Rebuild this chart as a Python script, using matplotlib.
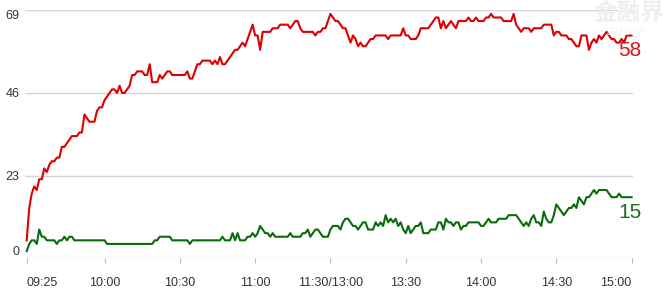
import numpy as np
import matplotlib
matplotlib.use('Agg')
from matplotlib import pyplot as plt

# minute-by-minute counts, 09:25 .. 15:00 (lunch break collapsed)
red = [
    5, 14, 18, 20, 19, 22, 22, 25, 24, 26,
    27, 27, 28, 28, 31, 31, 32, 33, 34, 34,
    34, 35, 35, 40, 39, 38, 38, 38, 41, 42,
    42, 44, 45, 46, 47, 47, 46, 48, 46, 46,
    47, 48, 51, 51, 52, 52, 52, 51, 51, 54,
    49, 49, 49, 51, 50, 51, 52, 52, 51, 51,
    51, 51, 51, 51, 52, 50, 50, 52, 54, 54,
    55, 55, 55, 55, 54, 55, 54, 56, 54, 54,
    55, 56, 57, 58, 58, 59, 60, 59, 61, 63,
    65, 62, 62, 58, 63, 63, 63, 63, 64, 64,
    64, 65, 65, 65, 65, 64, 65, 66, 66, 64,
    63, 63, 63, 63, 63, 62, 63, 63, 64, 64,
    66, 68, 67, 66, 66, 65, 64, 64, 62, 60,
    62, 61, 59, 60, 59, 59, 60, 61, 61, 62,
    62, 62, 62, 62, 61, 62, 62, 62, 62, 62,
    64, 62, 62, 61, 61, 61, 62, 64, 64, 64,
    64, 65, 66, 67, 67, 64, 66, 64, 65, 66,
    65, 64, 66, 66, 66, 66, 67, 66, 66, 67,
    66, 66, 66, 67, 67, 68, 67, 67, 67, 67,
    66, 66, 66, 66, 68, 65, 64, 63, 64, 64,
    64, 63, 64, 64, 64, 64, 65, 65, 65, 65,
    62, 63, 63, 62, 62, 62, 61, 61, 60, 59,
    59, 62, 62, 62, 58, 60, 61, 60, 62, 61,
    62, 63, 62, 61, 61, 60, 60, 61, 60, 62,
    62, 62,
]
green = [
    2, 4, 5, 5, 4, 8, 6, 6, 5, 5,
    5, 5, 4, 5, 5, 6, 5, 6, 6, 5,
    5, 5, 5, 5, 5, 5, 5, 5, 5, 5,
    5, 5, 4, 4, 4, 4, 4, 4, 4, 4,
    4, 4, 4, 4, 4, 4, 4, 4, 4, 4,
    4, 5, 5, 6, 6, 6, 6, 6, 5, 5,
    5, 5, 5, 5, 5, 4, 5, 5, 5, 5,
    5, 5, 5, 5, 5, 5, 5, 5, 6, 5,
    5, 5, 7, 5, 7, 5, 5, 5, 6, 6,
    7, 6, 7, 9, 8, 7, 7, 6, 7, 6,
    6, 6, 6, 6, 6, 7, 6, 6, 6, 6,
    7, 7, 8, 6, 7, 8, 8, 7, 6, 6,
    6, 8, 9, 9, 9, 8, 10, 11, 11, 10,
    9, 9, 8, 9, 10, 10, 8, 8, 8, 10,
    9, 10, 9, 12, 10, 11, 10, 11, 9, 10,
    8, 7, 9, 7, 8, 9, 9, 10, 7, 7,
    7, 8, 8, 8, 10, 10, 8, 11, 10, 10,
    9, 10, 10, 8, 9, 9, 10, 10, 10, 10,
    10, 9, 9, 10, 11, 10, 10, 10, 11, 11,
    11, 11, 12, 12, 12, 12, 11, 10, 9, 10,
    9, 11, 12, 10, 10, 9, 13, 11, 10, 10,
    12, 15, 14, 13, 12, 13, 14, 14, 15, 14,
    17, 16, 15, 17, 17, 18, 19, 18, 19, 19,
    19, 19, 18, 17, 17, 17, 18, 17, 17, 17,
    17, 17,
]
red_label = '58'
green_label = '15'
time_ticks = [0, 31, 61, 91, 121, 151, 181, 211, 241]
time_labels = ['09:25', '10:00', '10:30', '11:00', '11:30/13:00',
               '13:30', '14:00', '14:30', '15:00']
y_ticks = [0, 23, 46, 69]

plt.rcParams['font.family'] = ['Liberation Sans', 'DejaVu Sans']

fig = plt.figure(figsize=(6.69, 2.91), dpi=100)
W, H = 669, 291
ax = fig.add_axes([25 / W, (H - 258.3) / H, (633 - 25) / W, (258.3 - 10.3) / H])

# faint watermark
fig.text(593 / W, 1 - 1 / H, '金融界', family=['Noto Sans CJK SC'], fontsize=17,
         fontweight='bold', color='#efefef', ha='left', va='top')
fig.text(607 / W, 1 - 27 / H, 'JRJ.com', fontsize=7, color='#f2f2f2', ha='left', va='top')

x = np.arange(len(red))
ax.plot(x, red, color='#dd0000', lw=1.5, clip_on=False, zorder=3)
ax.plot(x, green, color='#0a6b0a', lw=1.5, clip_on=False, zorder=3)

ax.annotate(red_label, (x[-1], red[-1]), xytext=(-1.5, -11), textcoords='offset points',
            ha='center', va='center', fontsize=15, color='#d8101a', annotation_clip=False)
ax.annotate(green_label, (x[-1], green[-1]), xytext=(-1.5, -11), textcoords='offset points',
            ha='center', va='center', fontsize=15, color='#1e6b1e', annotation_clip=False)

ax.set_xlim(-0.68, 241.55)
ax.set_ylim(0, 69)
ax.set_yticks(y_ticks)
ax.set_yticklabels([str(v) for v in y_ticks])
ax.grid(axis='y', color='#d4d4d4', lw=1)
ax.set_axisbelow(True)
for s in ax.spines.values():
    s.set_visible(False)

ax.set_xticks(time_ticks)
ax.set_xticklabels(time_labels)
ax.tick_params(axis='x', length=3.6, width=0.8, color='#bbbbbb', pad=10,
               labelsize=9, labelcolor='#333333')
ax.tick_params(axis='y', length=0, pad=4, labelsize=9, labelcolor='#333333')

xl = ax.get_xticklabels()
xl[0].set_ha('left')
xl[-1].set_ha('right')
yl = ax.get_yticklabels()
yl[0].set_va('bottom')
yl[-1].set_va('top')

fig.savefig('out.png', dpi=100)
